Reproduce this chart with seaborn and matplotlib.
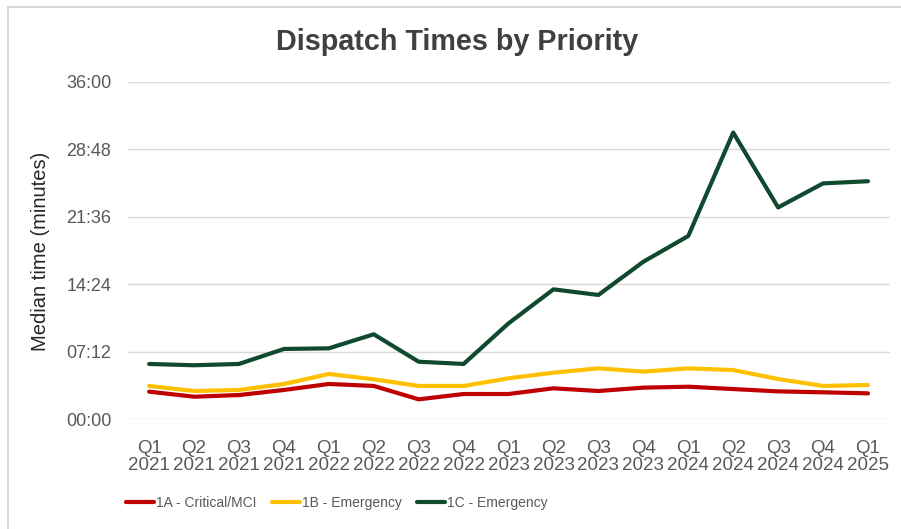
import matplotlib
matplotlib.use("Agg")
import matplotlib.pyplot as plt
from matplotlib.lines import Line2D
from matplotlib.ticker import FuncFormatter, FixedLocator
import numpy as np
import pandas as pd
import seaborn as sns

# Quarterly median dispatch times, in minutes
quarters = ["Q1\n2021", "Q2\n2021", "Q3\n2021", "Q4\n2021",
            "Q1\n2022", "Q2\n2022", "Q3\n2022", "Q4\n2022",
            "Q1\n2023", "Q2\n2023", "Q3\n2023", "Q4\n2023",
            "Q1\n2024", "Q2\n2024", "Q3\n2024", "Q4\n2024",
            "Q1\n2025"]
series_names = ["1A - Critical/MCI", "1B - Emergency", "1C - Emergency"]
critical_1a = [2.92, 2.38, 2.56, 3.10, 3.74, 3.53, 2.10, 2.67,
               2.67, 3.28, 2.99, 3.35, 3.45, 3.20, 2.95, 2.85, 2.74]
emergency_1b = [3.53, 2.99, 3.10, 3.74, 4.81, 4.24, 3.53, 3.53,
                4.35, 4.95, 5.41, 5.06, 5.41, 5.23, 4.27, 3.53, 3.63]
emergency_1c = [5.88, 5.74, 5.88, 7.48, 7.55, 9.05, 6.12, 5.88,
                10.22, 13.85, 13.25, 16.80, 19.55, 30.60, 22.60, 25.17, 25.40]
y_ticks = [0, 7.2, 14.4, 21.6, 28.8, 36.0]

colors = ["#C00000", "#FFC000", "#0F4A2F"]

rows = []
for name, vals in zip(series_names, [critical_1a, emergency_1b, emergency_1c]):
    for i, v in enumerate(vals):
        rows.append({"idx": i, "minutes": v, "Priority": name})
df = pd.DataFrame(rows)

sns.set_theme(style="white")
plt.rcParams["font.family"] = ["Liberation Sans", "DejaVu Sans"]

W, H = 901, 529
fig = plt.figure(figsize=(W / 100, H / 100), dpi=100)
ax = fig.add_axes([128 / W, 1 - 419 / H, (890 - 128) / W, (419 - 82) / H])

sns.lineplot(data=df, x="idx", y="minutes", hue="Priority",
             hue_order=series_names, palette=colors, linewidth=3.0,
             ax=ax, legend=False, zorder=3)

ax.set_xlim(-0.47, 16.49)
ax.set_ylim(0, 36)
ax.yaxis.set_major_locator(FixedLocator(y_ticks))


def mmss(v, _pos=None):
    total = int(round(v * 60))
    return f"{total // 60:02d}:{total % 60:02d}"


ax.yaxis.set_major_formatter(FuncFormatter(mmss))
ax.set_xticks(range(len(quarters)))
ax.set_xticklabels(quarters)

ax.grid(axis="y", color="#D9D9D9", linewidth=1.0)
ax.grid(axis="x", visible=False)
ax.set_axisbelow(True)
for s in ax.spines.values():
    s.set_visible(False)
ax.tick_params(axis="y", length=0, pad=12, labelsize=13, colors="#595959")
ax.tick_params(axis="x", length=0, pad=15, labelsize=13.5, colors="#595959")
for lbl in ax.get_xticklabels():
    lbl.set_linespacing(1.05)

ax.set_xlabel("")
ax.set_ylabel("Median time (minutes)", fontsize=14.5, color="#262626")
ax.yaxis.set_label_coords(-0.102, 0.497)

fig.text(457 / W, 1 - 42 / H, "Dispatch Times by Priority", ha="center",
         va="center", fontsize=20.7, fontweight="bold", color="#404040")

handles = [Line2D([0], [0], color=c, linewidth=3.0) for c in colors]
fig.legend(handles, series_names, loc="center", ncol=3, frameon=False,
           bbox_to_anchor=(337 / W, 1 - 503 / H), fontsize=10,
           handlelength=2.0, handletextpad=0.15, columnspacing=1.1,
           labelcolor="#595959")

# Light chart border along the top and left edges
fig.add_artist(Line2D([8 / W, 1.0], [1 - 7 / H, 1 - 7 / H],
                      transform=fig.transFigure, color="#D9D9D9", linewidth=1.5))
fig.add_artist(Line2D([8 / W, 8 / W], [0, 1 - 7 / H],
                      transform=fig.transFigure, color="#D9D9D9", linewidth=1.5))

fig.savefig("out.png", dpi=100)
